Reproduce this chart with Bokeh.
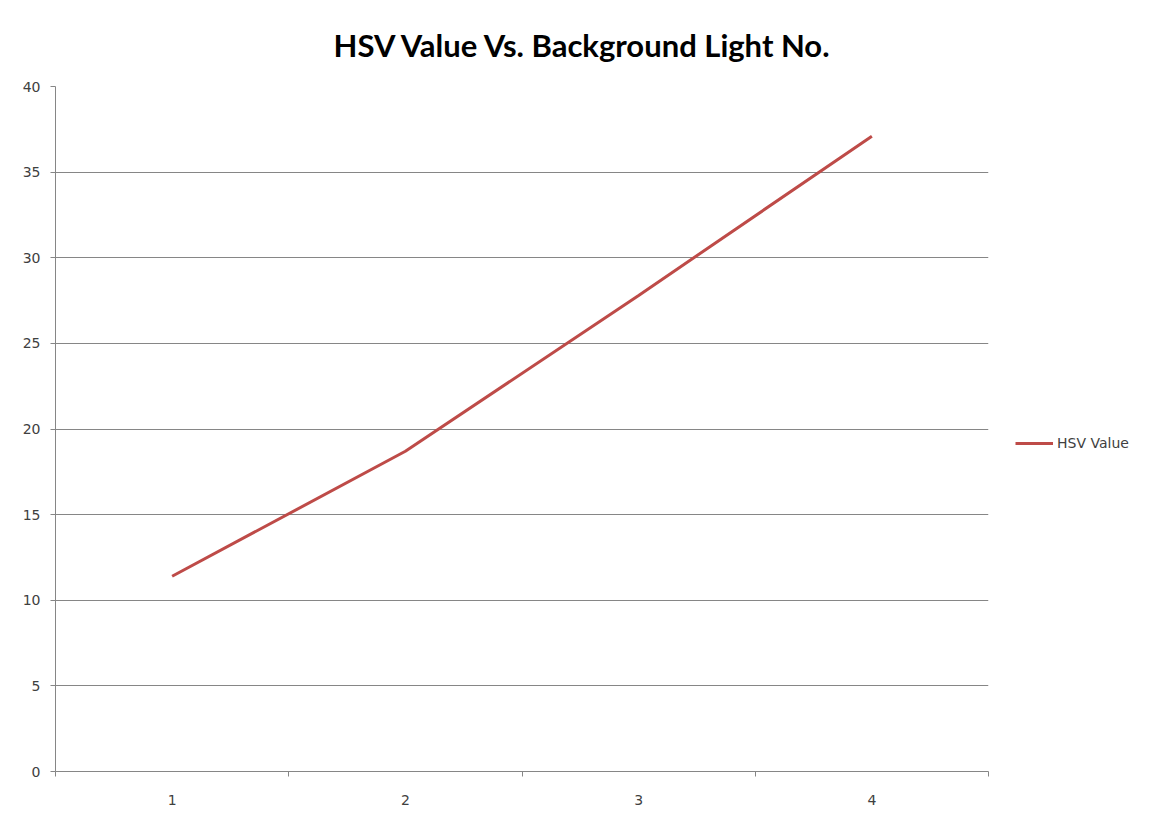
from bokeh.plotting import figure
from bokeh.models import FixedTicker, Range1d, Legend, LegendItem
from bokeh.embed import file_html
from bokeh.resources import INLINE

categories = [1, 2, 3, 4]
category_labels = ["1", "2", "3", "4"]
hsv_values = [11.4, 18.7, 27.8, 37.1]
y_ticks = [0, 5, 10, 15, 20, 25, 30, 35, 40]
title_text = "HSV Value Vs. Background Light No."
series_name = "HSV Value"

p = figure(frame_width=933, frame_height=685, output_backend="svg", toolbar_location=None,
           x_range=Range1d(0.5, 4.5), y_range=Range1d(0, 40),
           min_border_left=55, min_border_right=0,
           min_border_top=86, min_border_bottom=35)

p.title.text = title_text
p.title.align = "left"
p.title.offset = 278
p.title.text_font = "Lato"
p.title.text_font_style = "bold"
p.title.text_font_size = "31px"
p.title.text_color = "#000000"
p.title.standoff = 45

p.outline_line_color = None
p.background_fill_color = "white"
p.border_fill_color = "white"

# grid
p.xgrid.grid_line_color = None
p.ygrid.grid_line_color = "#868686"
p.ygrid.grid_line_width = 1
p.ygrid.ticker = FixedTicker(ticks=y_ticks)

# y axis
p.yaxis.ticker = FixedTicker(ticks=y_ticks)
p.yaxis.axis_line_color = "#868686"
p.yaxis.major_tick_line_color = "#868686"
p.yaxis.major_tick_out = 5
p.yaxis.major_tick_in = 0
p.yaxis.minor_tick_line_color = None
p.yaxis.major_label_text_font = "DejaVu Sans"
p.yaxis.major_label_text_font_size = "14px"
p.yaxis.major_label_text_color = "#404040"
p.yaxis.major_label_standoff = 10

# x axis
p.xaxis.ticker = FixedTicker(ticks=categories, minor_ticks=[0.5, 1.5, 2.5, 3.5, 4.5])
p.xaxis.major_label_overrides = {c: l for c, l in zip(categories, category_labels)}
p.xaxis.axis_line_color = "#868686"
p.xaxis.major_tick_line_color = None
p.xaxis.major_tick_out = 0
p.xaxis.major_tick_in = 0
p.xaxis.minor_tick_line_color = "#868686"
p.xaxis.minor_tick_out = 5
p.xaxis.minor_tick_in = 0
p.xaxis.major_label_text_font = "DejaVu Sans"
p.xaxis.major_label_text_font_size = "14px"
p.xaxis.major_label_text_color = "#404040"
p.xaxis.major_label_standoff = 18

r = p.line(categories, hsv_values, line_color="#BE4B48", line_width=3)

legend = Legend(items=[LegendItem(label=series_name, renderers=[r])],
                location=(27, 320), padding=0, margin=0, spacing=0,
                glyph_width=38, glyph_height=14, label_standoff=4,
                label_text_font="DejaVu Sans", label_text_font_size="14px",
                label_text_color="#404040", border_line_color=None,
                background_fill_alpha=0)
p.add_layout(legend, "right")

open("out.html", "w").write(file_html(p, INLINE))
